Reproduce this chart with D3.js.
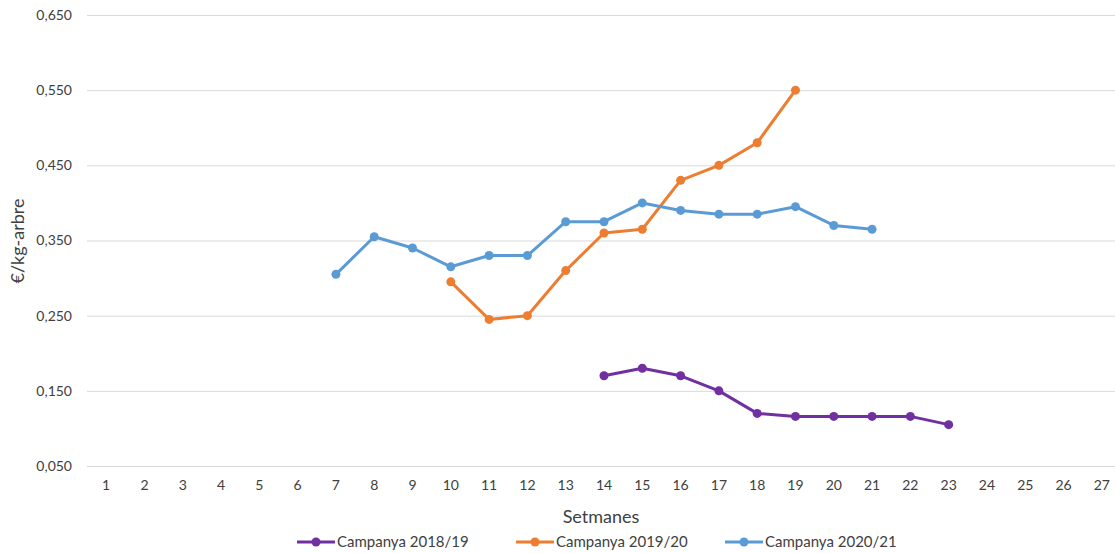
<!DOCTYPE html>
<html>
<head>
<meta charset="utf-8">
<script src="https://cdn.jsdelivr.net/npm/d3@7"></script>
<style>
  body { margin: 0; background: #fff; }
  text { font-family: Lato, "Open Sans", sans-serif; fill: #404040; }
</style>
</head>
<body>
<script>
(function (d3) {
  "use strict";

  /***** Data *****/
  var weeks = d3.range(1, 28);
  var yTicks = [0.05, 0.15, 0.25, 0.35, 0.45, 0.55, 0.65];
  var seriesNames = ["Campanya 2018/19", "Campanya 2019/20", "Campanya 2020/21"];
  var seriesColors = ["#7030A0", "#ED7D31", "#5B9BD5"];

  var weeks1819 = [14, 15, 16, 17, 18, 19, 20, 21, 22, 23];
  var values1819 = [0.170, 0.180, 0.170, 0.150, 0.120, 0.116, 0.116, 0.116, 0.116, 0.105];

  var weeks1920 = [10, 11, 12, 13, 14, 15, 16, 17, 18, 19];
  var values1920 = [0.295, 0.245, 0.250, 0.310, 0.360, 0.365, 0.430, 0.450, 0.480, 0.550];

  var weeks2021 = [7, 8, 9, 10, 11, 12, 13, 14, 15, 16, 17, 18, 19, 20, 21];
  var values2021 = [0.305, 0.355, 0.340, 0.315, 0.330, 0.330, 0.375, 0.375, 0.400, 0.390, 0.385, 0.385, 0.395, 0.370, 0.365];

  var series = [
    { name: seriesNames[0], color: seriesColors[0], points: d3.zip(weeks1819, values1819) },
    { name: seriesNames[1], color: seriesColors[1], points: d3.zip(weeks1920, values1920) },
    { name: seriesNames[2], color: seriesColors[2], points: d3.zip(weeks2021, values2021) }
  ];

  /***** Configuration *****/
  var width = 1115, height = 553;
  var plot = { left: 87, right: 1121, top: 15, bottom: 466 };

  /***** Scales *****/
  var xScale = d3.scaleBand().domain(weeks).range([plot.left, plot.right]);
  var yScale = d3.scaleLinear().domain([0.05, 0.65]).range([plot.bottom, plot.top]);
  var fmt = function (v) { return d3.format(".3f")(v).replace(".", ","); };

  var svg = d3.select("body").append("svg")
      .attr("width", width)
      .attr("height", height);

  /***** Grid + Y axis *****/
  var yAxis = d3.axisLeft(yScale).tickValues(yTicks).tickFormat(fmt)
      .tickSize(-(plot.right - plot.left)).tickPadding(15);
  var gy = svg.append("g")
      .attr("transform", "translate(" + plot.left + ",0)")
      .call(yAxis);
  gy.select(".domain").remove();
  gy.selectAll(".tick line").attr("stroke", "#d9d9d9").attr("stroke-width", 1);
  gy.selectAll(".tick text").style("font-size", "14px").attr("fill", "#404040");

  /***** X axis *****/
  var xAxis = d3.axisBottom(xScale).tickSize(0).tickPadding(14);
  var gx = svg.append("g")
      .attr("transform", "translate(0," + plot.bottom + ")")
      .call(xAxis);
  gx.select(".domain").attr("stroke", "#d9d9d9");
  gx.selectAll(".tick text").style("font-size", "14px").attr("fill", "#404040");

  /***** Titles *****/
  svg.append("text")
      .attr("x", 601)
      .attr("y", 523)
      .attr("text-anchor", "middle")
      .style("font-size", "18px")
      .text("Setmanes");

  svg.append("text")
      .attr("transform", "translate(24,241) rotate(-90)")
      .attr("text-anchor", "middle")
      .style("font-size", "18px")
      .text("€/kg-arbre");

  /***** Lines *****/
  var line = d3.line()
      .x(function (d) { return xScale(d[0]) + xScale.bandwidth() / 2; })
      .y(function (d) { return yScale(d[1]); });

  var g = svg.append("g");
  series.forEach(function (s) {
    g.append("path")
        .attr("d", line(s.points))
        .attr("fill", "none")
        .attr("stroke", s.color)
        .attr("stroke-width", 3)
        .attr("stroke-linejoin", "round");
    g.selectAll(null).data(s.points).enter().append("circle")
        .attr("cx", function (d) { return xScale(d[0]) + xScale.bandwidth() / 2; })
        .attr("cy", function (d) { return yScale(d[1]); })
        .attr("r", 4.5)
        .attr("fill", s.color);
  });

  /***** Legend *****/
  var legendX = [297, 516, 725];
  var legend = svg.append("g");
  series.forEach(function (s, i) {
    var lg = legend.append("g").attr("transform", "translate(" + legendX[i] + ",542)");
    lg.append("line").attr("x1", 0).attr("x2", 38).attr("y1", 0).attr("y2", 0)
        .attr("stroke", s.color).attr("stroke-width", 3);
    lg.append("circle").attr("cx", 19).attr("cy", 0).attr("r", 4.5).attr("fill", s.color);
    lg.append("text").attr("x", 40).attr("y", 5).style("font-size", "15px").text(s.name);
  });

})(d3);
</script>
</body>
</html>
